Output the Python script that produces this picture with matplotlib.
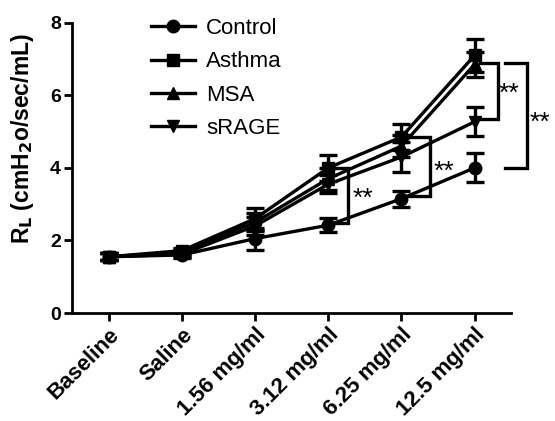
import matplotlib
matplotlib.use("Agg")
import matplotlib.pyplot as plt
from matplotlib.lines import Line2D
import numpy as np

categories = ["Baseline", "Saline", "1.56 mg/ml", "3.12 mg/ml", "6.25 mg/ml", "12.5 mg/ml"]
control = [1.55, 1.60, 2.05, 2.42, 3.15, 4.00]
control_err = [0.10, 0.08, 0.30, 0.20, 0.22, 0.40]
asthma = [1.55, 1.72, 2.60, 4.00, 4.85, 7.10]
asthma_err = [0.10, 0.08, 0.30, 0.35, 0.35, 0.45]
msa = [1.55, 1.68, 2.50, 3.70, 4.60, 6.85]
msa_err = [0.10, 0.08, 0.25, 0.30, 0.30, 0.35]
srage = [1.55, 1.62, 2.40, 3.55, 4.30, 5.27]
srage_err = [0.10, 0.08, 0.25, 0.25, 0.40, 0.40]

plt.rcParams['font.family'] = ['Liberation Sans', 'DejaVu Sans']

fig = plt.figure(figsize=(5.55, 4.21), dpi=100)
ax = fig.add_axes([0.130, 0.2565, 0.791, 0.6895])

x = np.arange(len(categories))
series = [("Control", control, control_err, "o"),
          ("Asthma", asthma, asthma_err, "s"),
          ("MSA", msa, msa_err, "^"),
          ("sRAGE", srage, srage_err, "v")]
handles = []
for name, vals, err, m in series:
    ax.errorbar(x, vals, yerr=err, color="black", marker=m, markersize=9,
                linewidth=2.4, elinewidth=2.4, capsize=6.5, capthick=2.4,
                clip_on=False)
    handles.append(Line2D([], [], color="black", marker=m, markersize=9,
                          linewidth=2.4, label=name))

ax.set_xlim(-0.5, 5.5)
ax.set_ylim(0, 8)
ax.set_yticks([0, 2, 4, 6, 8])
ax.set_xticks(x)
ax.set_xticklabels(categories, rotation=45, ha="right", rotation_mode="anchor",
                   fontsize=16, fontweight="bold")
for lab in ax.get_yticklabels():
    lab.set_fontsize(14)
    lab.set_fontweight("bold")
ax.spines["top"].set_visible(False)
ax.spines["right"].set_visible(False)
for s in ["left", "bottom"]:
    ax.spines[s].set_linewidth(2)
ax.tick_params(width=2, length=6, pad=2)
ax.set_ylabel(r"R$_\mathbf{L}$ (cmH$_\mathbf{2}$o/sec/mL)", fontsize=16.5,
              fontweight="bold")
ax.yaxis.set_label_coords(-0.082, 0.60)

leg = ax.legend(handles=handles, loc="upper left", bbox_to_anchor=(0.133, 1.085),
                frameon=False, fontsize=16, handlelength=2.0, labelspacing=0.55,
                handletextpad=0.5)

def bracket(xc, y1, y2, xv, label, tx, ty):
    ax.plot([xc, xv, xv, xc], [y1, y1, y2, y2], color="black", lw=2.4,
            clip_on=False, solid_joinstyle="miter")
    ax.text(tx, ty, label, fontsize=19, ha="left", va="center", clip_on=False)

px = 73.3  # pixels per category
def xp(pix):
    return (pix - 108) / px

bracket(xp(332), 4.0, 2.49, xp(348), "**", xp(352), 3.15)
bracket(xp(407), 4.86, 3.23, xp(430), "**", xp(433), 3.9)
bracket(xp(480), 6.9, 5.35, xp(498), "**", xp(499), 6.05)
bracket(xp(505), 6.9, 4.0, xp(527), "**", xp(530), 5.25)

fig.savefig("out.png", dpi=100)
